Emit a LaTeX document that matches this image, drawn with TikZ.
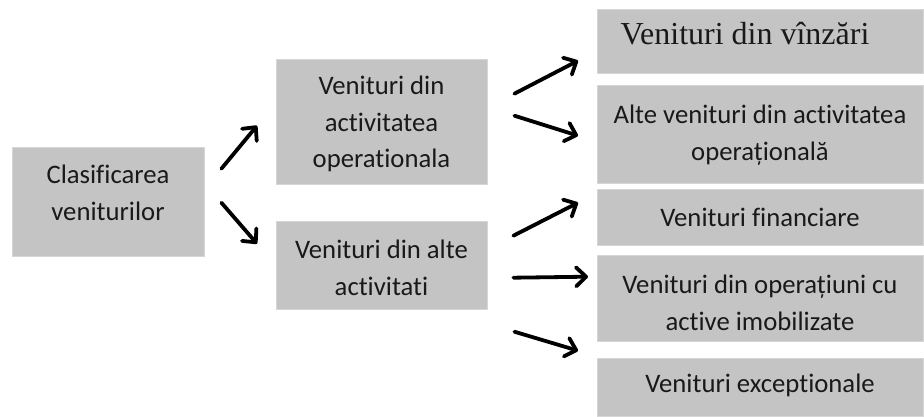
\documentclass[tikz,border=0pt]{standalone}
\usepackage{fontspec}
\setmainfont[Ligatures=NoCommon]{Carlito}
\newfontfamily\serifface[Ligatures=NoCommon]{Liberation Serif}
\usetikzlibrary{arrows.meta,calc}
\definecolor{boxfill}{RGB}{196,196,196}
\definecolor{boxedge}{RGB}{214,214,214}
\begin{document}
\begin{tikzpicture}[x=1pt,y=-1pt,
  box/.style={draw=boxedge,line width=1.4pt,fill=boxfill,inner sep=0pt,anchor=north west},
  lbl/.style={align=center,font=\fontsize{26.7}{36.8}\selectfont,inner sep=0pt,text=black!90},
  arr/.style={line width=3.8pt,line cap=round,-{Straight Barb[length=10pt,width=19pt,line cap=round,line join=round]}}]
\useasboundingbox (0,0) rectangle (924,417);

% first level
\node[box,minimum width=192pt,minimum height=109pt] (A) at (12,147) {};
% second level
\node[box,minimum width=211pt,minimum height=125pt] (B) at (276,59) {};
\node[box,minimum width=211pt,minimum height=88pt] (C) at (276,221) {};
% third level
\node[box,minimum width=326pt,minimum height=64pt] (R1) at (597,9) {};
\node[box,minimum width=326pt,minimum height=98pt] (R2) at (597,85) {};
\node[box,minimum width=326pt,minimum height=56pt] (R3) at (597,189) {};
\node[box,minimum width=326pt,minimum height=86pt] (R4) at (597,255) {};
\node[box,minimum width=326pt,minimum height=58pt] (R5) at (597,358) {};

% texts
\node[lbl] (tA) at (108,193) {Clasificarea\\veniturilor};
\node[lbl] (tB) at (381.5,124) {Venituri din\\activitatea\\operationala};
\node[lbl] (tC) at (381.5,267.5) {Venituri din alte\\activitati};
\node[lbl,font=\serifface\fontsize{32}{36}\selectfont] (t1) at (745,34) {Venituri din vînzări};
\node[lbl] (t2) at (760,135) {Alte venituri din activitatea\\operațională};
\node[lbl] (t3) at (760,217) {Venituri financiare};
\node[lbl] (t4) at (760,303) {Venituri din operațiuni cu\\active imobilizate};
\node[lbl] (t5) at (760,385) {Venituri exceptionale};

% connectors
\draw[arr] ($(A.east)+(16,-33.5)$) -- ($(B.west)+(-19,3.5)$);
\draw[arr] ($(A.east)+(16,0.5)$) -- ($(C.west)+(-19,-22)$);
\draw[arr] ($(B.east)+(26,-28.5)$) -- ($(R1.west)+(-19,19)$);
\draw[arr] ($(B.east)+(26,-6.5)$) -- ($(R2.west)+(-19,1)$);
\draw[arr] ($(C.east)+(25,-30)$) -- ($(R3.west)+(-19,-15)$);
\draw[arr] ($(C.east)+(25,12)$) -- ($(R4.west)+(-9,-22)$);
\draw[arr] ($(C.east)+(26,66)$) -- ($(R5.west)+(-19,-37)$);
\end{tikzpicture}
\end{document}
